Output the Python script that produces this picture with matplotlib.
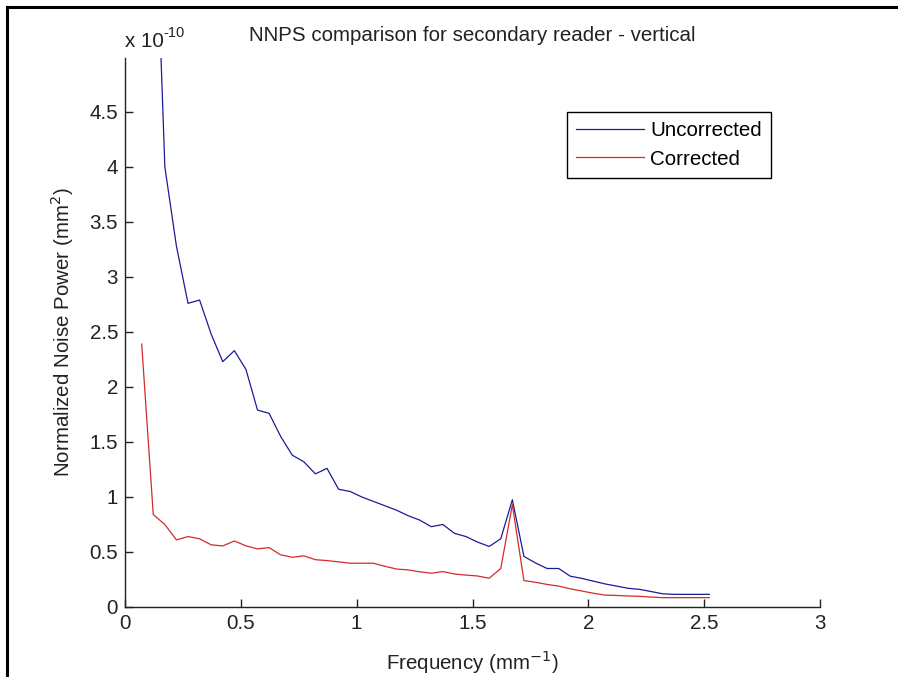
import matplotlib
matplotlib.use("Agg")
import matplotlib.pyplot as plt
from matplotlib.lines import Line2D

plt.rcParams['font.family'] = ['Liberation Sans', 'DejaVu Sans']

# Frequency grid (mm^-1)
freq = [0.072, 0.122, 0.172, 0.222, 0.272, 0.322, 0.372, 0.422, 0.472, 0.522,
        0.572, 0.622, 0.672, 0.722, 0.772, 0.822, 0.872, 0.922, 0.972, 1.022,
        1.072, 1.122, 1.172, 1.222, 1.272, 1.322, 1.372, 1.422, 1.472, 1.522,
        1.572, 1.622, 1.672, 1.722, 1.772, 1.822, 1.872, 1.922, 1.972, 2.022,
        2.072, 2.122, 2.172, 2.222, 2.272, 2.322, 2.372, 2.422, 2.472, 2.522]

# NNPS values in units of 1e-10 mm^2
uncorrected = [12.0, 7.0, 4.0, 3.28, 2.76, 2.79, 2.48, 2.23, 2.33, 2.16,
               1.79, 1.76, 1.55, 1.38, 1.32, 1.21, 1.26, 1.07, 1.05, 1.00,
               0.96, 0.92, 0.88, 0.83, 0.79, 0.73, 0.75, 0.67, 0.64, 0.59,
               0.55, 0.62, 0.975, 0.46, 0.40, 0.35, 0.35, 0.28, 0.26, 0.235,
               0.21, 0.19, 0.17, 0.16, 0.14, 0.12, 0.115, 0.115, 0.115, 0.115]

corrected = [2.39, 0.84, 0.75, 0.61, 0.64, 0.62, 0.565, 0.555, 0.60, 0.556,
             0.528, 0.54, 0.474, 0.452, 0.465, 0.43, 0.422, 0.41, 0.398, 0.398,
             0.398, 0.37, 0.345, 0.337, 0.32, 0.307, 0.322, 0.30, 0.29, 0.282,
             0.261, 0.35, 0.93, 0.24, 0.225, 0.205, 0.19, 0.165, 0.145, 0.125,
             0.108, 0.105, 0.10, 0.097, 0.09, 0.085, 0.085, 0.085, 0.085, 0.085]

xticks = [0, 0.5, 1, 1.5, 2, 2.5, 3]
xticklabels = ['0', '0.5', '1', '1.5', '2', '2.5', '3']
yticks = [0, 0.5, 1, 1.5, 2, 2.5, 3, 3.5, 4, 4.5]
yticklabels = ['0', '0.5', '1', '1.5', '2', '2.5', '3', '3.5', '4', '4.5']

W, H = 898, 677
fig = plt.figure(figsize=(W / 100, H / 100), dpi=100)
fig.patch.set_facecolor('white')
ax = fig.add_axes([125 / W, 1 - 607 / H, (820 - 125) / W, (607 - 58) / H])

ax.plot(freq, uncorrected, color='#1c1c96', lw=0.9, label='Uncorrected')
ax.plot(freq, corrected, color='#d42a2a', lw=0.9, label='Corrected')

ax.set_xlim(0, 3)
ax.set_ylim(0, 4.99)
ax.set_xticks(xticks)
ax.set_xticklabels(xticklabels)
ax.set_yticks(yticks)
ax.set_yticklabels(yticklabels)

for s in ['top', 'right']:
    ax.spines[s].set_visible(False)
for s in ['left', 'bottom']:
    ax.spines[s].set_linewidth(1.0)
    ax.spines[s].set_color('#222222')

fs = 14.8
ax.tick_params(direction='in', length=6, width=1.0, labelsize=fs,
               colors='#222222', pad=5)

ax.set_title('NNPS comparison for secondary reader - vertical',
             fontsize=fs, color='#222222', pad=12)
ax.set_xlabel('Frequency (mm$^{-1}$)', fontsize=fs, color='#222222', labelpad=11)
ax.set_ylabel('Normalized Noise Power (mm$^{2}$)', fontsize=fs,
              color='#222222', labelpad=10)

t1 = ax.text(0.0, 1.012, 'x 10', transform=ax.transAxes, ha='left',
             va='bottom', fontsize=fs, color='#222222')
ax.annotate('-10', xy=(1.0, 0.95), xycoords=t1, ha='left', va='center',
            fontsize=10.5, color='#222222')

leg = ax.legend(loc='upper right', bbox_to_anchor=(0.9295, 0.9016),
                fontsize=fs, frameon=True, fancybox=False, framealpha=1,
                edgecolor='black', handlelength=3.3, handletextpad=0.3,
                borderpad=0.45, labelspacing=0.45, borderaxespad=0)
leg.get_frame().set_linewidth(1.0)

# figure border (top and left)
fig.add_artist(Line2D([6.5 / W, 1], [1 - 6.5 / H, 1 - 6.5 / H],
                      transform=fig.transFigure, color='black', lw=2.2))
fig.add_artist(Line2D([6.5 / W, 6.5 / W], [0, 1 - 6.5 / H],
                      transform=fig.transFigure, color='black', lw=2.2))

fig.savefig('out.png', dpi=100)
